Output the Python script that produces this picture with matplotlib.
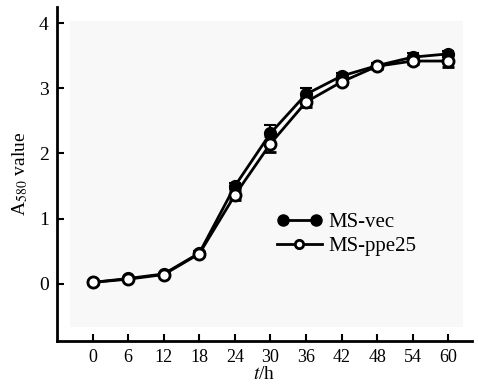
import matplotlib
matplotlib.use("Agg")
import matplotlib.pyplot as plt
from matplotlib.patches import Rectangle
from matplotlib.lines import Line2D
from matplotlib.legend_handler import HandlerLine2D

hours = [0, 6, 12, 18, 24, 30, 36, 42, 48, 54, 60]
ms_vec = [0.02, 0.08, 0.15, 0.47, 1.50, 2.31, 2.91, 3.19, 3.35, 3.48, 3.53]
ms_vec_err = [0.02, 0.02, 0.02, 0.03, 0.05, 0.12, 0.10, 0.05, 0.04, 0.06, 0.05]
ms_ppe25 = [0.02, 0.07, 0.14, 0.46, 1.36, 2.15, 2.79, 3.10, 3.34, 3.42, 3.42]
ms_ppe25_err = [0.02, 0.02, 0.02, 0.03, 0.08, 0.12, 0.08, 0.04, 0.04, 0.05, 0.09]
series_labels = ["MS-vec", "MS-ppe25"]
yticks = [0, 1, 2, 3, 4]

plt.rcParams['font.family'] = ['Liberation Serif', 'DejaVu Serif']
plt.rcParams['mathtext.fontset'] = 'stix'

fig = plt.figure(figsize=(4.78, 3.87), dpi=100)
ax = fig.add_axes([57/478, 1-341/387, (472-57)/478, (341-7)/387])
ax.add_patch(Rectangle((70/478, 1-327/387), (463-70)/478, (327-21)/387,
                       transform=fig.transFigure, facecolor='#f8f8f8',
                       edgecolor='none', zorder=0, clip_on=False))

ax.errorbar(hours, ms_vec, yerr=ms_vec_err, color='black', lw=2.0, marker='o',
            ms=8, mfc='black', mec='black', mew=1.5, capsize=4, elinewidth=1.5,
            capthick=1.5, zorder=3)
ax.errorbar(hours, ms_ppe25, yerr=ms_ppe25_err, color='black', lw=2.0, marker='o',
            ms=8, mfc='white', mec='black', mew=2.0, capsize=4, elinewidth=1.5,
            capthick=1.5, zorder=4)

ax.set_xlim(-6, 64)
ax.set_ylim(-0.88, 4.25)
ax.set_xticks(hours)
ax.set_yticks(yticks)
ax.tick_params(direction='in', length=5, width=1.5, pad=6)
ax.tick_params(axis='x', labelsize=13)
ax.tick_params(axis='y', labelsize=14)
for s in ['top', 'right']:
    ax.spines[s].set_visible(False)
for s in ['left', 'bottom']:
    ax.spines[s].set_linewidth(2.0)

ax.set_xlabel(r'$t$/h', fontsize=14, labelpad=0)
ax.set_ylabel(r'A$_{580}$ value', fontsize=14, labelpad=6)

h1 = Line2D([], [], color='black', lw=2.0, marker='o', ms=8, mfc='black', mec='black')
h2 = Line2D([], [], color='black', lw=2.0, marker='o', ms=6, mfc='white', mec='black', mew=2.0)
leg = ax.legend([h1, h2], series_labels, loc='upper left', bbox_to_anchor=(0.505, 0.415),
                frameon=False, fontsize=15, handlelength=2.15, handletextpad=0.3,
                labelspacing=0.2, borderpad=0,
                handler_map={h1: HandlerLine2D(numpoints=2), h2: HandlerLine2D(numpoints=1)})

fig.savefig('out.png', dpi=100)
